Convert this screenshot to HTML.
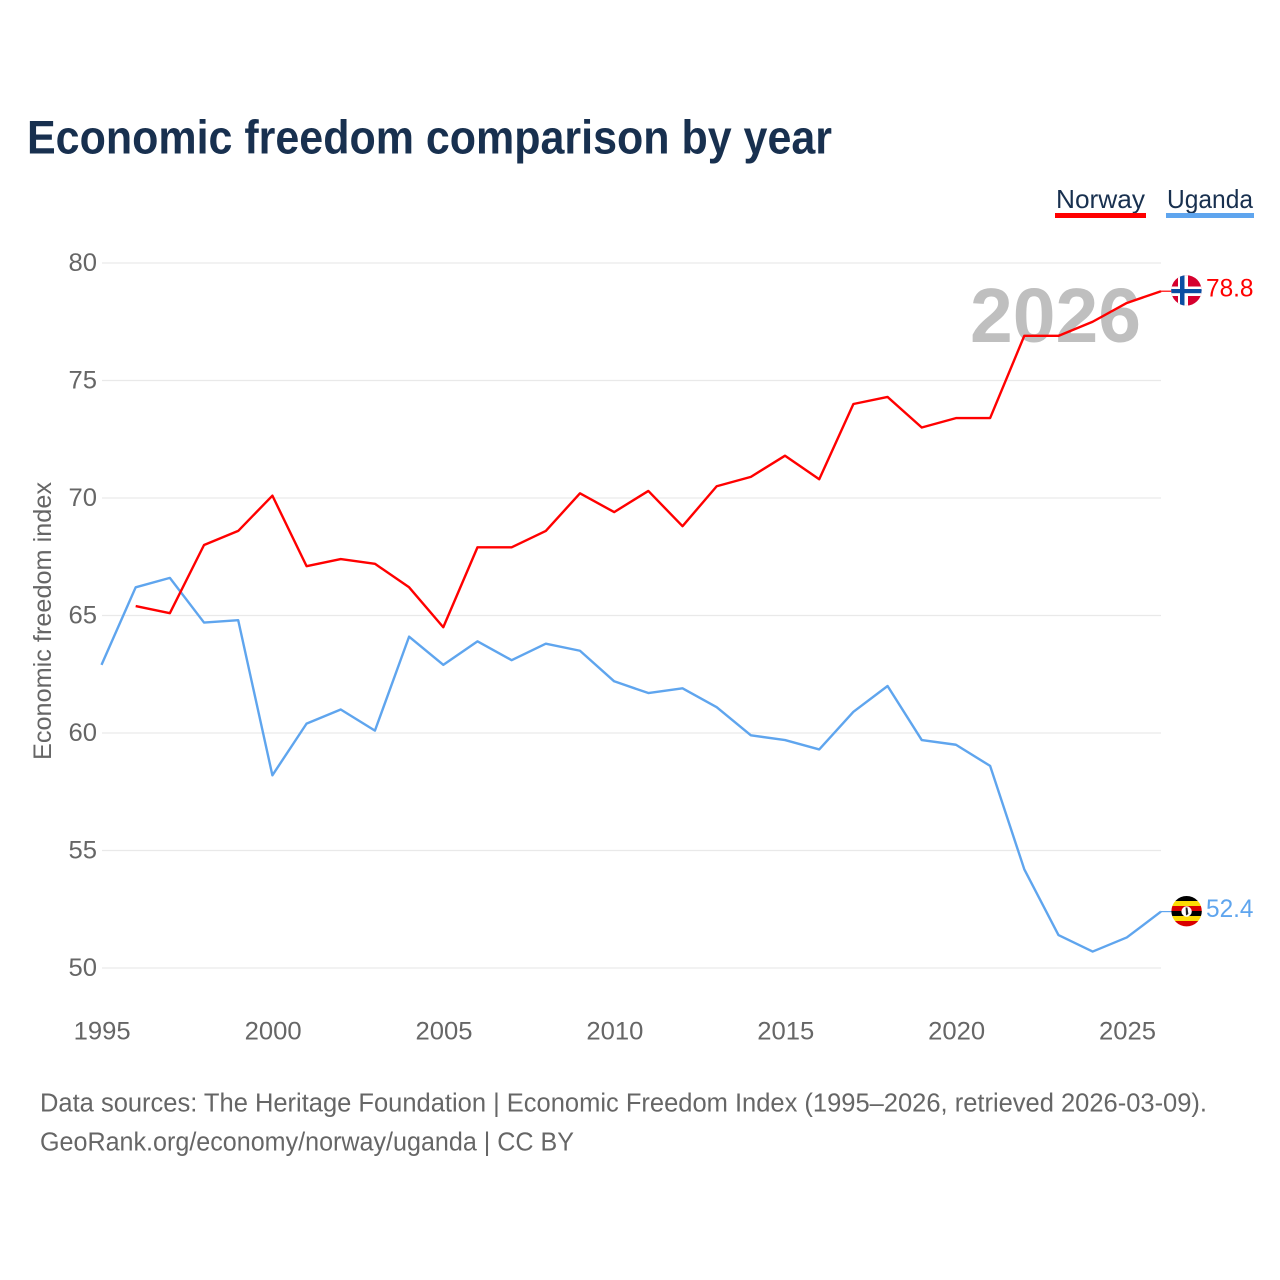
<!DOCTYPE html>
<html lang="en">
<head>
<meta charset="utf-8">
<title>Economic freedom comparison by year</title>
<style>
html,body{margin:0;padding:0;background:#fff;}
svg{display:block;}
text{font-family:"Liberation Sans",sans-serif;}
</style>
</head>
<body>
<svg id="chart" xmlns="http://www.w3.org/2000/svg" width="1280" height="1280" viewBox="0 0 1280 1280">
  <rect width="1280" height="1280" fill="#ffffff"/>
  <text x="27" y="153.5" font-size="47" font-weight="700" fill="#18304f" textLength="805" lengthAdjust="spacingAndGlyphs">Economic freedom comparison by year</text>

  <g id="grid"></g>
  <g id="yticks"></g>
  <g id="xticks"></g>
  <text transform="translate(51,621) rotate(-90)" text-anchor="middle" font-size="25" fill="#666666" textLength="278" lengthAdjust="spacingAndGlyphs">Economic freedom index</text>

  <text x="970" y="342" font-size="77" font-weight="700" fill="#bfbfbf" textLength="171" lengthAdjust="spacingAndGlyphs">2026</text>

  <g id="series"></g>

  <g>
    <text x="1056" y="208" font-size="26" fill="#18304f" textLength="89" lengthAdjust="spacingAndGlyphs">Norway</text>
    <rect x="1055" y="213" width="91" height="5" fill="#ff0000"/>
  </g>
  <g>
    <text x="1167" y="208" font-size="26" fill="#18304f" textLength="86" lengthAdjust="spacingAndGlyphs">Uganda</text>
    <rect x="1166" y="213" width="88" height="5" fill="#5fa5ee"/>
  </g>

  <defs>
    <clipPath id="clip-no"><circle cx="1186.4" cy="290.4" r="15.2"/></clipPath>
    <clipPath id="clip-ug"><circle cx="1186.6" cy="911.2" r="15.2"/></clipPath>
  </defs>
  <g id="flag-norway" clip-path="url(#clip-no)">
    <rect x="1171" y="275" width="31" height="31" fill="#d6002e"/>
    <rect x="1178" y="275" width="10" height="31" fill="#ffffff"/>
    <rect x="1171" y="286.5" width="31" height="9.5" fill="#ffffff"/>
    <rect x="1180" y="275" width="4.5" height="31" fill="#0b4ea2"/>
    <rect x="1171" y="289" width="31" height="4.2" fill="#0b4ea2"/>
  </g>
  <g id="flag-uganda" clip-path="url(#clip-ug)">
    <rect x="1171" y="896" width="31" height="5.1" fill="#000000"/>
    <rect x="1171" y="901" width="31" height="5.1" fill="#fcdc04"/>
    <rect x="1171" y="906" width="31" height="5.1" fill="#d90000"/>
    <rect x="1171" y="911" width="31" height="5.1" fill="#000000"/>
    <rect x="1171" y="916" width="31" height="5.1" fill="#fcdc04"/>
    <rect x="1171" y="921" width="31" height="6" fill="#d90000"/>
    <circle cx="1186.6" cy="911.5" r="5.2" fill="#ffffff"/>
    <path d="M1185.6 907.5 L1187.4 907.5 L1188.4 914 L1186 915.5 Z" fill="#222222"/>
  </g>

  <g id="endlabels"></g>

  <text x="40" y="1111.5" font-size="25.5" fill="#666666" textLength="1167" lengthAdjust="spacingAndGlyphs">Data sources: The Heritage Foundation | Economic Freedom Index (1995–2026, retrieved 2026-03-09).</text>
  <text x="40" y="1150.5" font-size="25.5" fill="#666666" textLength="534" lengthAdjust="spacingAndGlyphs">GeoRank.org/economy/norway/uganda | CC BY</text>
</svg>
<script>
const years = [1995,1996,1997,1998,1999,2000,2001,2002,2003,2004,2005,2006,2007,2008,2009,2010,2011,2012,2013,2014,2015,2016,2017,2018,2019,2020,2021,2022,2023,2024,2025,2026];
const norwayValues = [null,65.4,65.1,68.0,68.6,70.1,67.1,67.4,67.2,66.2,64.5,67.9,67.9,68.6,70.2,69.4,70.3,68.8,70.5,70.9,71.8,70.8,74.0,74.3,73.0,73.4,73.4,76.9,76.9,77.5,78.3,78.8];
const ugandaValues = [62.9,66.2,66.6,64.7,64.8,58.2,60.4,61.0,60.1,64.1,62.9,63.9,63.1,63.8,63.5,62.2,61.7,61.9,61.1,59.9,59.7,59.3,60.9,62.0,59.7,59.5,58.6,54.2,51.4,50.7,51.3,52.4];
const yTickValues = [50,55,60,65,70,75,80];
const xTickValues = [1995,2000,2005,2010,2015,2020,2025];

const NS = 'http://www.w3.org/2000/svg';
const X0 = 101.5, X1 = 1161, Y50 = 968, Y80 = 263;
function xScale(year) { return X0 + (year - 1995) * (X1 - X0) / (2026 - 1995); }
function yScale(v) { return Y50 + (v - 50) * (Y80 - Y50) / (80 - 50); }
function make(tag, attrs, parent, content) {
  const el = document.createElementNS(NS, tag);
  for (const k in attrs) el.setAttribute(k, attrs[k]);
  if (content !== undefined) el.textContent = content;
  parent.appendChild(el);
  return el;
}

const grid = document.getElementById('grid');
const yticks = document.getElementById('yticks');
const xticks = document.getElementById('xticks');
const series = document.getElementById('series');
const endlabels = document.getElementById('endlabels');

yTickValues.forEach(function (t) {
  const line = make('line', {x1: 102, x2: X1, y1: yScale(t), y2: yScale(t), stroke: '#e9e9e9', 'stroke-width': 1.3}, grid);
  
  
  const label = make('text', {x: 97, y: yScale(t) + 8, 'text-anchor': 'end', 'font-size': 25, fill: '#666666', textLength: 28.5, lengthAdjust: 'spacingAndGlyphs'}, yticks, String(t));
  
  
});

xTickValues.forEach(function (t) {
  const label = make('text', {x: xScale(t) + 0.7, y: 1039.5, 'text-anchor': 'middle', 'font-size': 25, fill: '#666666', textLength: 57, lengthAdjust: 'spacingAndGlyphs'}, xticks, String(t));
  
  
});

function drawSeries(name, values, color) {
  let d = '';
  values.forEach(function (v, i) {
    if (v === null) return;
    d += (d ? 'L' : 'M') + xScale(years[i]).toFixed(2) + ' ' + yScale(v).toFixed(2);
  });
  const path = make('path', {d: d, fill: 'none', stroke: color, 'stroke-width': 2.4, 'stroke-linejoin': 'round'}, series);
  
  

  const last = values[values.length - 1];
  const ly = yScale(last);
  const leader = make('line', {x1: X1, x2: 1172, y1: ly, y2: ly, stroke: color, 'stroke-width': 1.2}, series);
  
  

  const label = make('text', {x: 1206, y: ly + 5.5, 'font-size': 25, fill: color, textLength: 47.5, lengthAdjust: 'spacingAndGlyphs'}, endlabels, last.toFixed(1));
  
  
}

drawSeries('uganda', ugandaValues, '#5fa5ee');
drawSeries('norway', norwayValues, '#ff0000');
</script>
</body>
</html>
